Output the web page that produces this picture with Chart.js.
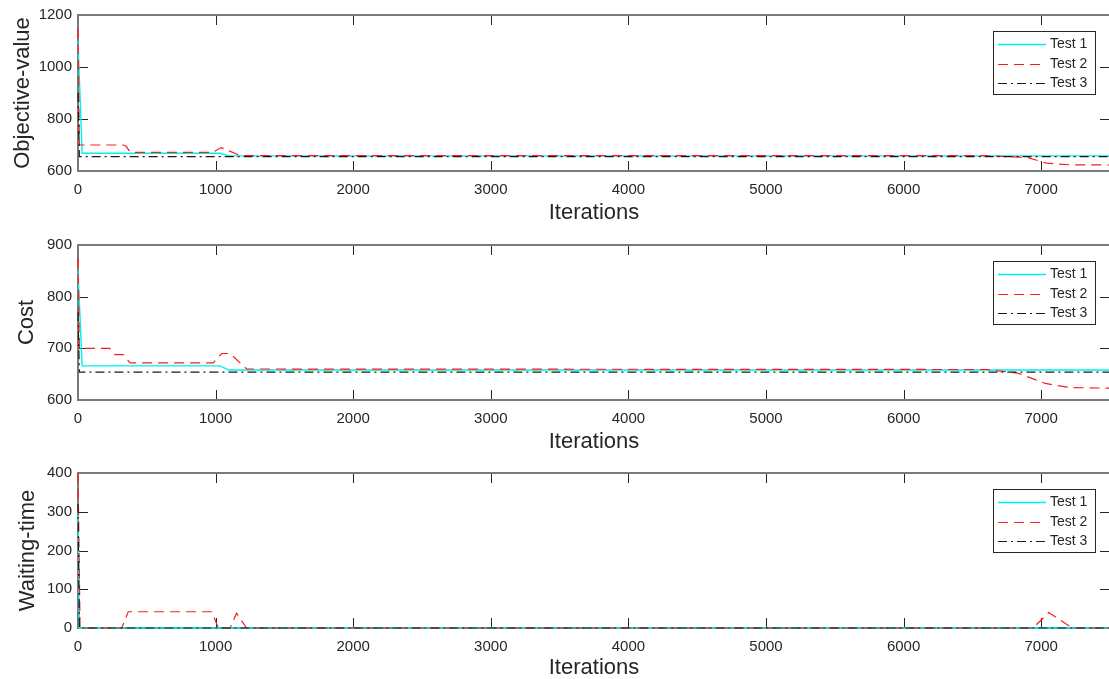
<!DOCTYPE html>
<html>
<head>
<meta charset="utf-8">
<script src="https://cdn.jsdelivr.net/npm/chart.js@4.4.1/dist/chart.umd.min.js"></script>
<style>
    html, body { margin: 0; padding: 0; background: #fff; overflow: hidden; width: 1109px; height: 679px; }
    .panel { position: absolute; left: 0; width: 1112px; }
    canvas { display: block; }
</style>
</head>
<body>
<div class="panel" style="top:0px"><canvas id="objChart" width="1112" height="226"></canvas></div>
<div class="panel" style="top:226px"><canvas id="costChart" width="1112" height="229"></canvas></div>
<div class="panel" style="top:455px"><canvas id="waitChart" width="1112" height="226"></canvas></div>
<script>
// shared x axis
const xTicks = [0, 1000, 2000, 3000, 4000, 5000, 6000, 7000];
const xMax = 7500;
const seriesNames = ['Test 1', 'Test 2', 'Test 3'];

// Objective-value
const objTicks = [600, 800, 1000, 1200];
const objX1 = [0, 30, 1030, 1100, 7500];
const objY1 = [1100, 668, 668, 658, 658];
const objX2 = [0, 10, 330, 350, 380, 980, 1040, 1180, 6600, 6900, 7040, 7200, 7500];
const objY2 = [1150, 700, 700, 695, 672, 672, 690, 659, 659, 652, 630, 624, 623];
const objX3 = [0, 10, 7500];
const objY3 = [900, 655, 655];

// Cost
const costTicks = [600, 700, 800, 900];
const costX1 = [0, 30, 1030, 1100, 7500];
const costY1 = [850, 666, 666, 658, 658];
const costX2 = [0, 10, 230, 270, 330, 378, 983, 1045, 1105, 1226, 6600, 6830, 7030, 7210, 7500];
const costY2 = [875, 700, 700, 688, 688, 672, 672, 690, 690, 660, 659, 652, 632, 624, 623];
const costX3 = [0, 10, 7500];
const costY3 = [770, 654, 654];

// Waiting-time
const waitTicks = [0, 100, 200, 300, 400];
const waitX1 = [0, 10, 7500];
const waitY1 = [300, 0, 0];
const waitX2 = [0, 15, 318, 365, 972, 1020, 1105, 1152, 1225, 6940, 7055, 7225, 7500];
const waitY2 = [400, 0, 0, 42, 42, 0, 0, 38, 0, 0, 40, 0, 0];
const waitX3 = [0, 10, 7500];
const waitY3 = [320, 0, 0];

const textColor = '#262626';
const fontFamily = '"Liberation Sans", Arial, sans-serif';
const styles = [
    { color: '#00f0f0', dash: [] },
    { color: '#ff1a1a', dash: [10, 6] },
    { color: '#1a1a1a', dash: [9, 4, 2, 4] }
];

function pairs(xs, ys) {
    return xs.map((x, i) => ({ x: x, y: ys[i] }));
}

// box and inward tick marks under the lines, legend on top (MATLAB look)
const matlabAxes = {
    id: 'matlabAxes',
    beforeDatasetsDraw(chart) {
        const { ctx, chartArea: a, scales } = chart;
        ctx.save();
        ctx.strokeStyle = textColor;
        ctx.lineWidth = 1;
        ctx.beginPath();
        scales.x.ticks.forEach(t => {
            const px = Math.round(scales.x.getPixelForValue(t.value)) + 0.5;
            ctx.moveTo(px, a.bottom); ctx.lineTo(px, a.bottom - 10);
            ctx.moveTo(px, a.top); ctx.lineTo(px, a.top + 10);
        });
        scales.y.ticks.forEach(t => {
            const py = Math.round(scales.y.getPixelForValue(t.value)) + 0.5;
            ctx.moveTo(a.left, py); ctx.lineTo(a.left + 10, py);
            ctx.moveTo(a.right, py); ctx.lineTo(a.right - 10, py);
        });
        ctx.stroke();
        ctx.strokeStyle = '#7a7a7a';
        ctx.lineWidth = 2;
        ctx.strokeRect(a.left, a.top, a.right - a.left, a.bottom - a.top);
        ctx.restore();
    },
    afterDatasetsDraw(chart) {
        const { ctx, chartArea: a } = chart;
        ctx.save();
        const bx = 993, by = a.top + 16, bw = 102, bh = 63;
        ctx.fillStyle = '#fff';
        ctx.fillRect(bx, by, bw, bh);
        ctx.strokeStyle = '#262626';
        ctx.lineWidth = 1;
        ctx.strokeRect(bx + 0.5, by + 0.5, bw, bh);
        ctx.font = '14px ' + fontFamily;
        ctx.textBaseline = 'middle';
        ctx.textAlign = 'left';
        chart.data.datasets.forEach((ds, i) => {
            const ry = Math.round(by + 13 + i * 19.5) + 0.5;
            ctx.strokeStyle = ds.borderColor;
            ctx.lineWidth = ds.borderWidth;
            ctx.setLineDash(ds.borderDash || []);
            ctx.beginPath();
            ctx.moveTo(bx + 5, ry);
            ctx.lineTo(bx + 53, ry);
            ctx.stroke();
            ctx.setLineDash([]);
            ctx.fillStyle = textColor;
            ctx.fillText(ds.label, bx + 57, ry);
        });
        ctx.restore();
    }
};

function makePanel(id, yTitle, yTicks, xs, ys, padTop, xAxisH, yTitlePad) {
    // later tests drawn over earlier ones, as in the original plot
    const datasets = seriesNames.map((name, i) => ({
        label: name,
        data: pairs(xs[i], ys[i]),
        borderColor: styles[i].color,
        borderDash: styles[i].dash,
        borderWidth: i === 0 ? 1.4 : 1.2,
        pointRadius: 0,
        tension: 0,
        order: seriesNames.length - i,
        clip: 3
    }));
    new Chart(document.getElementById(id), {
        type: 'line',
        data: { datasets: datasets },
        options: {
            responsive: false,
            animation: false,
            events: [],
            layout: { padding: { top: padTop, right: 2, left: 0, bottom: 0 } },
            scales: {
                x: {
                    type: 'linear',
                    min: 0,
                    max: xMax,
                    afterBuildTicks: s => { s.ticks = xTicks.map(v => ({ value: v })); },
                    afterFit: s => { s.height = xAxisH; },
                    grid: { display: false, drawTicks: false },
                    border: { display: false },
                    ticks: {
                        padding: 10,
                        color: textColor,
                        maxRotation: 0,
                        autoSkip: false,
                        callback: v => String(v),
                        font: { family: fontFamily, size: 15 }
                    },
                    title: {
                        display: true,
                        text: 'Iterations',
                        color: textColor,
                        padding: 0,
                        font: { family: fontFamily, size: 22 }
                    }
                },
                y: {
                    min: yTicks[0],
                    max: yTicks[yTicks.length - 1],
                    afterBuildTicks: s => { s.ticks = yTicks.map(v => ({ value: v })); },
                    afterFit: s => { s.width = 78; },
                    grid: { display: false, drawTicks: false },
                    border: { display: false },
                    ticks: {
                        padding: 6,
                        color: textColor,
                        callback: v => String(v),
                        font: { family: fontFamily, size: 15 }
                    },
                    title: {
                        display: true,
                        text: yTitle,
                        color: textColor,
                        padding: { top: yTitlePad, bottom: 0 },
                        font: { family: fontFamily, size: 22 }
                    }
                }
            },
            plugins: {
                legend: { display: false },
                tooltip: { enabled: false }
            }
        },
        plugins: [matlabAxes]
    });
}

makePanel('objChart', 'Objective-value', objTicks,
    [objX1, objX2, objX3], [objY1, objY2, objY3], 15, 55, 10);
makePanel('costChart', 'Cost', costTicks,
    [costX1, costX2, costX3], [costY1, costY2, costY3], 19, 55, 14);
makePanel('waitChart', 'Waiting-time', waitTicks,
    [waitX1, waitX2, waitX3], [waitY1, waitY2, waitY3], 18, 53, 15);
</script>
</body>
</html>
